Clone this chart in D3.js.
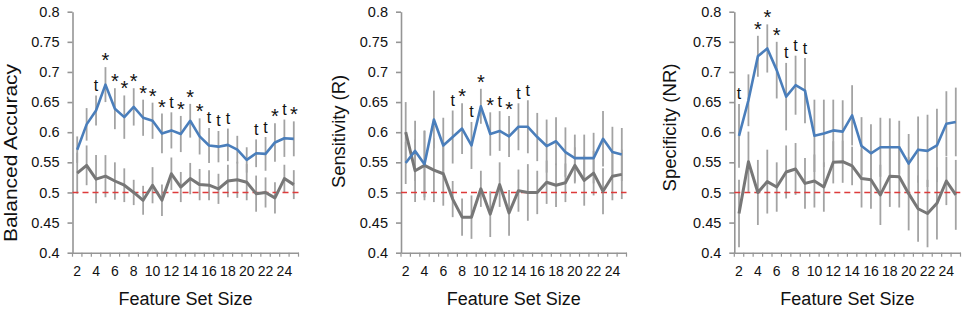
<!DOCTYPE html>
<html>
<head>
<meta charset="utf-8">
<script src="https://cdn.jsdelivr.net/npm/d3@7/dist/d3.min.js"></script>
<style>
  body { margin: 0; background: #fff; }
  svg { display: block; }
  text { font-family: Arial, "Liberation Sans", sans-serif; fill: #111; }
</style>
</head>
<body>
<div id="chart"></div>
<script>
// feature set sizes (x categories)
const sizes = [2, 3, 4, 5, 6, 7, 8, 9, 10, 11, 12, 13, 14, 15, 16, 17, 18, 19, 20, 21, 22, 23, 24, 25];
const xTickSizes = [2, 4, 6, 8, 10, 12, 14, 16, 18, 20, 22, 24];
const yTicks = [0.4, 0.45, 0.5, 0.55, 0.6, 0.65, 0.7, 0.75, 0.8];
const yTickLabels = ["0.4", "0.45", "0.5", "0.55", "0.6", "0.65", "0.7", "0.75", "0.8"];
const chanceLevel = 0.5;

// Balanced accuracy
const accMean = [0.571, 0.613, 0.636, 0.679, 0.639, 0.625, 0.642, 0.624, 0.619, 0.598, 0.603, 0.597,
                 0.619, 0.593, 0.578, 0.576, 0.579, 0.571, 0.554, 0.565, 0.564, 0.583, 0.590, 0.589];
const accErr = [0.022, 0.027, 0.025, 0.029, 0.034, 0.036, 0.031, 0.030, 0.030, 0.033, 0.030, 0.030,
                0.028, 0.030, 0.029, 0.026, 0.027, 0.023, 0.021, 0.023, 0.028, 0.032, 0.031, 0.029];
const accNull = [0.532, 0.545, 0.522, 0.527, 0.519, 0.512, 0.500, 0.487, 0.512, 0.487, 0.531, 0.509,
                 0.523, 0.513, 0.512, 0.506, 0.519, 0.521, 0.517, 0.498, 0.500, 0.491, 0.523, 0.513];
const accNullErr = [0.034, 0.033, 0.040, 0.035, 0.031, 0.028, 0.021, 0.024, 0.030, 0.026, 0.027, 0.025,
                    0.026, 0.026, 0.025, 0.025, 0.027, 0.030, 0.030, 0.030, 0.025, 0.026, 0.023, 0.024];
const accMarks = ["", "", "t", "*", "*", "*", "*", "*", "*", "*", "t", "*",
                  "*", "*", "t", "t", "t", "", "", "t", "t", "*", "t", "*"];

// Sensitivity (R)
const sensMean = [0.549, 0.569, 0.547, 0.621, 0.578, 0.592, 0.606, 0.578, 0.643, 0.597, 0.602, 0.593,
                  0.609, 0.609, 0.592, 0.577, 0.585, 0.567, 0.557, 0.557, 0.557, 0.589, 0.567, 0.563];
const sensErr = [0.035, 0.050, 0.055, 0.048, 0.046, 0.044, 0.042, 0.039, 0.029, 0.036, 0.033, 0.034,
                 0.039, 0.044, 0.040, 0.044, 0.040, 0.041, 0.039, 0.039, 0.042, 0.046, 0.042, 0.044];
const sensNull = [0.600, 0.536, 0.545, 0.537, 0.531, 0.489, 0.459, 0.459, 0.506, 0.464, 0.513, 0.466,
                  0.503, 0.500, 0.500, 0.517, 0.512, 0.516, 0.545, 0.520, 0.532, 0.502, 0.527, 0.530];
const sensNullErr = [0.050, 0.052, 0.058, 0.053, 0.053, 0.030, 0.031, 0.036, 0.030, 0.038, 0.037, 0.038,
                     0.035, 0.047, 0.036, 0.036, 0.036, 0.032, 0.030, 0.042, 0.037, 0.038, 0.040, 0.041];
const sensMarks = ["", "", "", "", "", "t", "*", "t", "*", "*", "t", "*",
                   "t", "t", "", "", "", "", "", "", "", "", "", ""];

// Specificity (NR)
const specMean = [0.594, 0.653, 0.726, 0.739, 0.703, 0.659, 0.678, 0.669, 0.594, 0.598, 0.603, 0.601,
                  0.628, 0.577, 0.565, 0.575, 0.575, 0.575, 0.548, 0.571, 0.569, 0.578, 0.614, 0.617];
const specErr = [0.053, 0.043, 0.034, 0.040, 0.047, 0.056, 0.049, 0.054, 0.060, 0.056, 0.051, 0.052,
                 0.050, 0.048, 0.048, 0.049, 0.048, 0.044, 0.049, 0.055, 0.060, 0.061, 0.054, 0.057];
const specNull = [0.465, 0.551, 0.500, 0.518, 0.509, 0.534, 0.539, 0.515, 0.519, 0.509, 0.550, 0.551,
                  0.544, 0.523, 0.521, 0.496, 0.527, 0.526, 0.498, 0.473, 0.465, 0.482, 0.519, 0.496];
const specNullErr = [0.056, 0.050, 0.054, 0.053, 0.041, 0.044, 0.043, 0.042, 0.044, 0.041, 0.035, 0.035,
                     0.032, 0.048, 0.048, 0.050, 0.051, 0.051, 0.061, 0.055, 0.056, 0.060, 0.040, 0.058];
const specMarks = ["t", "", "*", "*", "*", "t", "t", "t", "", "", "", "",
                   "", "", "", "", "", "", "", "", "", "", "", ""];

const width = 965, height = 310;
const yTop = 11.7, yBottom = 252.7;

const panels = [
  { title: "Balanced Accuracy", x0: 72.5, x1: 298.5, titleX: 17, titleY: 153, titleLen: 178,
    mean: accMean, err: accErr, nullMean: accNull, nullErr: accNullErr, marks: accMarks },
  { title: "Sensitivity (R)", x0: 401, x1: 626.5, titleX: 345, titleY: 131.5, titleLen: 113,
    mean: sensMean, err: sensErr, nullMean: sensNull, nullErr: sensNullErr, marks: sensMarks },
  { title: "Specificity (NR)", x0: 734.3, x1: 960.5, titleX: 676, titleY: 127.5, titleLen: 128,
    mean: specMean, err: specErr, nullMean: specNull, nullErr: specNullErr, marks: specMarks }
];

const blue = "#4a7ebb", grey = "#777777", barColor = "#a3a3a3", axisColor = "#959595";

const svg = d3.select("#chart").append("svg")
  .attr("width", width)
  .attr("height", height);

const y = d3.scaleLinear().domain([0.4, 0.8]).range([yBottom, yTop]);

panels.forEach(p => {
  const x = d3.scaleBand().domain(sizes).range([p.x0, p.x1]);
  const cx = d => x(d) + x.bandwidth() / 2;
  const g = svg.append("g");

  // y axis
  const yAxis = g.append("g")
    .attr("transform", `translate(${p.x0},0)`)
    .call(d3.axisLeft(y).tickValues(yTicks)
      .tickFormat((d, i) => yTickLabels[i])
      .tickSize(5).tickSizeOuter(0).tickPadding(8));
  yAxis.selectAll("path, line").attr("stroke", axisColor).attr("stroke-width", 1.6);
  yAxis.selectAll("text").style("font-size", "14.5px").attr("fill", "#111");

  // x axis: labels on even sizes, ticks on band boundaries
  const xAxis = g.append("g")
    .attr("transform", `translate(0,${yBottom})`)
    .call(d3.axisBottom(x).tickValues(xTickSizes).tickSize(0).tickSizeOuter(0).tickPadding(13));
  xAxis.select("path").attr("stroke", axisColor).attr("stroke-width", 1.6);
  xAxis.selectAll("text").style("font-size", "14px").attr("fill", "#111");
  g.append("g").selectAll("line")
    .data(sizes.concat([null]))
    .join("line")
    .attr("x1", (d, i) => p.x0 + i * x.step())
    .attr("x2", (d, i) => p.x0 + i * x.step())
    .attr("y1", yBottom)
    .attr("y2", yBottom + 4)
    .attr("stroke", axisColor)
    .attr("stroke-width", 1.2);

  // titles
  g.append("text")
    .attr("x", (p.x0 + p.x1) / 2)
    .attr("y", 305)
    .attr("text-anchor", "middle")
    .style("font-size", "18px")
    .text("Feature Set Size");

  g.append("text")
    .attr("transform", `translate(${p.titleX},${p.titleY}) rotate(-90)`)
    .attr("text-anchor", "middle")
    .attr("textLength", p.titleLen)
    .attr("lengthAdjust", "spacingAndGlyphs")
    .style("font-size", "18px")
    .text(p.title);

  // error bars for both series
  const bars = sizes.flatMap((s, i) => [
    { s, lo: p.mean[i] - p.err[i], hi: p.mean[i] + p.err[i] },
    { s, lo: p.nullMean[i] - p.nullErr[i], hi: p.nullMean[i] + p.nullErr[i] }
  ]);
  g.append("g").selectAll("line")
    .data(bars)
    .join("line")
    .attr("x1", d => cx(d.s))
    .attr("x2", d => cx(d.s))
    .attr("y1", d => y(d.lo))
    .attr("y2", d => y(d.hi))
    .attr("stroke", barColor)
    .attr("stroke-width", 1.8);

  // chance level
  g.append("line")
    .attr("x1", p.x0)
    .attr("x2", p.x1)
    .attr("y1", y(chanceLevel))
    .attr("y2", y(chanceLevel))
    .attr("stroke", "#dd3b3b")
    .attr("stroke-width", 1.5)
    .attr("stroke-dasharray", "6,4");

  const line = d3.line().x(d => cx(d[0])).y(d => y(d[1]));

  g.append("path")
    .datum(sizes.map((s, i) => [s, p.nullMean[i]]))
    .attr("d", line)
    .attr("fill", "none")
    .attr("stroke", grey)
    .attr("stroke-width", 3)
    .attr("stroke-linejoin", "round");

  g.append("path")
    .datum(sizes.map((s, i) => [s, p.mean[i]]))
    .attr("d", line)
    .attr("fill", "none")
    .attr("stroke", blue)
    .attr("stroke-width", 2.6)
    .attr("stroke-linejoin", "round");

  // significance markers above the upper error bar
  g.append("g").selectAll("text")
    .data(sizes.map((s, i) => ({ s, m: p.marks[i], top: p.mean[i] + p.err[i] })).filter(d => d.m))
    .join("text")
    .attr("x", d => cx(d.s))
    .attr("y", d => y(d.top) - (d.m === "*" ? 0 : 4.5))
    .attr("text-anchor", "middle")
    .style("font-size", d => d.m === "*" ? "20px" : "16px")
    .text(d => d.m);
});
</script>
</body>
</html>
